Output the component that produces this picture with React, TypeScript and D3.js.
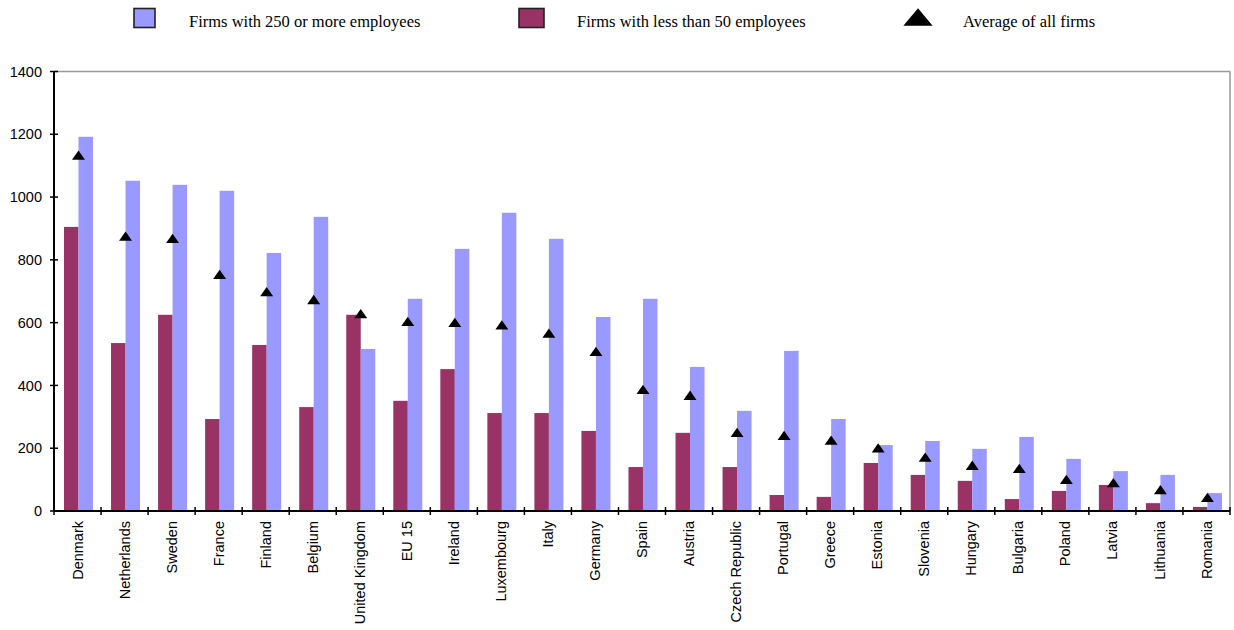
import React from "react";
import * as d3 from "d3";

const categories = [
  "Denmark", "Netherlands", "Sweden", "France", "Finland", "Belgium",
  "United Kingdom", "EU 15", "Ireland", "Luxembourg", "Italy", "Germany",
  "Spain", "Austria", "Czech Republic", "Portugal", "Greece", "Estonia",
  "Slovenia", "Hungary", "Bulgaria", "Poland", "Latvia", "Lithuania", "Romania",
];

const large = [
  1192, 1052, 1039, 1020, 822, 937, 516, 676, 835, 950, 867, 618,
  676, 459, 319, 510, 293, 210, 223, 198, 236, 166, 127, 115, 57,
];

const small = [
  905, 535, 625, 293, 529, 331, 625, 351, 452, 312, 312, 255,
  140, 249, 140, 51, 45, 153, 115, 96, 38, 64, 83, 25, 13,
];

const average = [
  1132, 874, 867, 752, 697, 672, 627, 602, 599, 591, 565, 507,
  386, 367, 249, 239, 224, 199, 170, 144, 134, 99, 89, 66, 42,
];

const yTicks = [0, 200, 400, 600, 800, 1000, 1200, 1400];

const seriesNames = [
  "Firms with 250 or more employees",
  "Firms with less than 50 employees",
  "Average of all firms",
];

const BLUE = "#9999FF";
const MAROON = "#993366";

export default function App() {
  const W = 1234;
  const H = 630;
  const left = 54;
  const right = 1230;
  const top = 71.5;
  const bottom = 511;

  const x = d3.scaleBand<string>().domain(categories).range([left, right]).paddingInner(0).paddingOuter(0);
  const y = d3.scaleLinear().domain([0, 1400]).range([bottom, top]);
  const bw = x.bandwidth();
  const inner = d3.scaleBand<string>().domain(["small", "large"]).range([10, 39]);

  const tri = d3.symbol().type(d3.symbolTriangle).size(55)();
  const triLegend = d3.symbol().type(d3.symbolTriangle).size(220)();
  const sans = "Liberation Sans, Arial, sans-serif";

  return (
    <svg width={W} height={H} style={{ position: "absolute", left: 0, top: 0, background: "#fff" }}>
      {/* legend */}
      <g>
        <rect x={134} y={8.5} width={21} height={19} fill={BLUE} stroke="#222" strokeWidth={1.6} />
        <text x={189} y={27} fontFamily="Liberation Serif" fontSize={16.5} fill="#000">{seriesNames[0]}</text>
        <rect x={519} y={8.5} width={25} height={19} fill={MAROON} stroke="#222" strokeWidth={1.6} />
        <text x={577} y={27} fontFamily="Liberation Serif" fontSize={16.5} fill="#000">{seriesNames[1]}</text>
        <path d={triLegend} transform="translate(918,20) scale(1.3,0.9)" fill="#000" />
        <text x={963} y={27} fontFamily="Liberation Serif" fontSize={16.5} fill="#000">{seriesNames[2]}</text>
      </g>

      {/* frame */}
      <line x1={left} x2={right} y1={top} y2={top} stroke="#999" strokeWidth={1.5} />
      <line x1={right} x2={right} y1={top} y2={bottom} stroke="#999" strokeWidth={1.5} />

      {/* bars */}
      {categories.map((c, i) => (
        <g key={c}>
          <rect
            x={(x(c) as number) + (inner("small") as number)}
            y={y(small[i])}
            width={inner.bandwidth()}
            height={bottom - y(small[i])}
            fill={MAROON}
          />
          <rect
            x={(x(c) as number) + (inner("large") as number)}
            y={y(large[i])}
            width={inner.bandwidth()}
            height={bottom - y(large[i])}
            fill={BLUE}
          />
        </g>
      ))}

      {/* average markers */}
      {categories.map((c, i) => (
        <path
          key={"t" + c}
          d={tri}
          transform={`translate(${(x(c) as number) + (inner("large") as number)},${y(average[i]) + 1}) scale(1.15,0.95)`}
          fill="#000"
        />
      ))}

      {/* y axis */}
      <line x1={left} x2={left} y1={top} y2={bottom} stroke="#000" strokeWidth={2} />
      {yTicks.map((t) => (
        <g key={t}>
          <line x1={left - 4} x2={left + 4} y1={y(t)} y2={y(t)} stroke="#000" strokeWidth={1.5} />
          <text
            x={42}
            y={y(t)}
            dy="0.35em"
            textAnchor="end"
            fontFamily={sans}
            fontSize={14.5}
            fill="#000"
          >
            {t}
          </text>
        </g>
      ))}

      {/* x axis */}
      <line x1={left} x2={right} y1={bottom} y2={bottom} stroke="#000" strokeWidth={2} />
      {[...categories.map((c) => x(c) as number), right].map((px, i) => (
        <line key={"xt" + i} x1={px} x2={px} y1={bottom - 4} y2={bottom + 4} stroke="#000" strokeWidth={1.5} />
      ))}
      {categories.map((c) => (
        <text
          key={"xl" + c}
          transform={`translate(${(x(c) as number) + bw / 2},${bottom + 10}) rotate(-90)`}
          textAnchor="end"
          dy="0.35em"
          fontFamily={sans}
          fontSize={14.5}
          fill="#000"
        >
          {c}
        </text>
      ))}
    </svg>
  );
}
